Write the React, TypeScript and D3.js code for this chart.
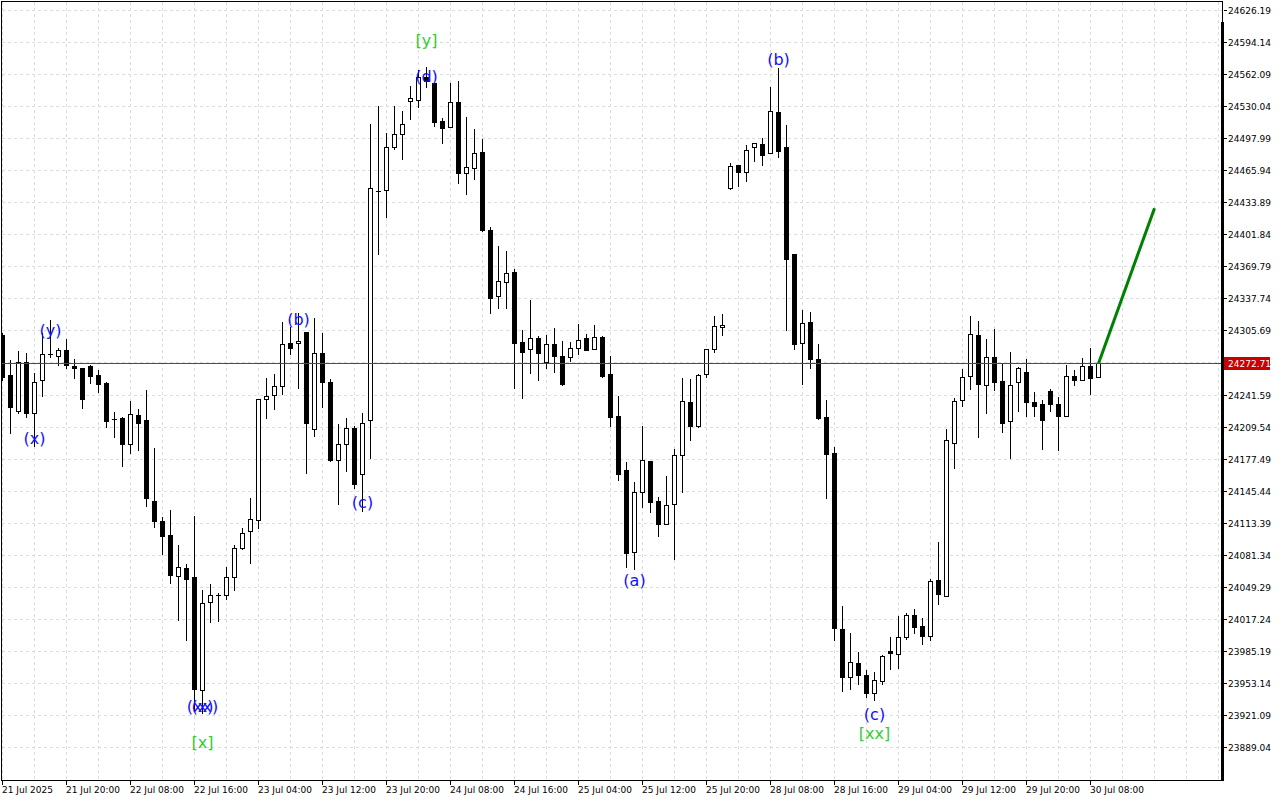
import * as d3 from 'd3'

// H1 candles
const opens = [
  24301, 24261, 24225, 24274, 24223, 24256, 24282, 24280, 24286, 24270,
  24268, 24270, 24261, 24253, 24217, 24218, 24192, 24221, 24216, 24135,
  24115, 24101, 24060, 24068, 24059, 23946, 24034, 24041, 24041, 24059,
  24088, 24105, 24116, 24237, 24241, 24250, 24293, 24293, 24304, 24207,
  24283, 24254, 24176, 24192, 24208, 24162, 24216, 24445, 24446, 24489,
  24502, 24535, 24536, 24559, 24553, 24515, 24509, 24534, 24463, 24468,
  24484, 24406, 24340, 24354, 24364, 24294, 24287, 24298, 24274, 24292,
  24280, 24279, 24288, 24298, 24287, 24299, 24262, 24220, 24166, 24084,
  24144, 24175, 24135, 24112, 24132, 24181, 24234, 24210, 24262, 24287,
  24309, 24448, 24471, 24464, 24489, 24492, 24483, 24524, 24489, 24382,
  24293, 24314, 24277, 24219, 24183, 24007, 23959, 23973, 23961, 23943,
  23955, 23985, 23982, 23999, 24021, 24010, 24000, 24056, 24040, 24193,
  24236, 24260, 24301, 24251, 24279, 24255, 24215, 24254, 24264, 24234,
  24232, 24245, 24232, 24220, 24260, 24256, 24270, 24259,
]
const highs = [
  24303, 24276, 24285, 24283, 24263, 24303, 24316, 24288, 24297, 24277,
  24268, 24271, 24266, 24254, 24224, 24219, 24235, 24227, 24246, 24188,
  24119, 24126, 24091, 24072, 24120, 24046, 24052, 24043, 24069, 24091,
  24108, 24138, 24237, 24258, 24262, 24314, 24309, 24323, 24304, 24318,
  24303, 24257, 24212, 24218, 24210, 24223, 24512, 24530, 24503, 24530,
  24525, 24550, 24566, 24569, 24553, 24518, 24553, 24555, 24519, 24507,
  24497, 24409, 24390, 24385, 24367, 24306, 24336, 24300, 24301, 24308,
  24295, 24294, 24312, 24302, 24311, 24300, 24280, 24240, 24174, 24154,
  24210, 24175, 24139, 24160, 24187, 24258, 24257, 24262, 24287, 24320,
  24322, 24473, 24471, 24491, 24493, 24498, 24549, 24568, 24511, 24382,
  24326, 24324, 24292, 24236, 24189, 24030, 24003, 23984, 23966, 23964,
  23981, 23999, 24020, 24023, 24027, 24018, 24057, 24094, 24207, 24238,
  24267, 24320, 24315, 24297, 24307, 24273, 24284, 24269, 24277, 24244,
  24236, 24247, 24239, 24271, 24266, 24278, 24288, 24273,
]
const lows = [
  24256, 24203, 24223, 24219, 24190, 24240, 24279, 24271, 24268, 24258,
  24228, 24253, 24244, 24209, 24199, 24170, 24183, 24186, 24130, 24109,
  24082, 24053, 24016, 23996, 23926, 23923, 24014, 24015, 24037, 24046,
  24087, 24073, 24108, 24218, 24227, 24242, 24282, 24248, 24163, 24200,
  24229, 24175, 24132, 24165, 24148, 24125, 24178, 24382, 24419, 24487,
  24477, 24517, 24529, 24549, 24510, 24493, 24509, 24453, 24442, 24457,
  24405, 24323, 24328, 24328, 24248, 24238, 24263, 24256, 24268, 24264,
  24251, 24275, 24282, 24286, 24287, 24259, 24210, 24156, 24069, 24067,
  24129, 24124, 24100, 24112, 24077, 24144, 24196, 24209, 24259, 24284,
  24301, 24447, 24450, 24455, 24475, 24471, 24483, 24479, 24306, 24287,
  24252, 24268, 24217, 24138, 23996, 23945, 23947, 23952, 23939, 23936,
  23952, 23967, 23968, 23997, 24003, 23992, 23996, 24032, 24040, 24168,
  24230, 24247, 24199, 24223, 24246, 24204, 24178, 24225, 24220, 24220,
  24187, 24225, 24186, 24220, 24251, 24256, 24242, 24259,
]
const closes = [
  24259, 24229, 24274, 24223, 24254, 24282, 24282, 24286, 24271, 24268,
  24237, 24260, 24252, 24215, 24217, 24192, 24222, 24213, 24138, 24115,
  24100, 24061, 24069, 24057, 23947, 24033, 24041, 24041, 24059, 24088,
  24103, 24117, 24237, 24240, 24250, 24292, 24288, 24295, 24213, 24283,
  24254, 24176, 24192, 24208, 24152, 24213, 24448, 24445, 24489, 24502,
  24512, 24538, 24559, 24555, 24514, 24508, 24534, 24463, 24469, 24483,
  24406, 24338, 24355, 24363, 24293, 24284, 24298, 24283, 24292, 24280,
  24252, 24288, 24296, 24286, 24299, 24260, 24219, 24162, 24083, 24144,
  24176, 24134, 24112, 24131, 24181, 24235, 24210, 24261, 24287, 24310,
  24311, 24470, 24464, 24486, 24493, 24481, 24525, 24485, 24377, 24292,
  24313, 24277, 24218, 24182, 24008, 23959, 23974, 23961, 23943, 23956,
  23980, 23983, 23999, 24021, 24009, 24000, 24055, 24042, 24196, 24235,
  24259, 24302, 24252, 24279, 24254, 24213, 24251, 24268, 24234, 24230,
  24216, 24232, 24220, 24260, 24256, 24270, 24258, 24272.71,
]

const bidPrice = 24272.71

const priceTicks = [
  24626.19, 24594.14, 24562.09, 24530.04, 24497.99, 24465.94, 24433.89, 24401.84,
  24369.79, 24337.74, 24305.69, 24273.64, 24241.59, 24209.54, 24177.49, 24145.44,
  24113.39, 24081.34, 24049.29, 24017.24, 23985.19, 23953.14, 23921.09, 23889.04,
]

// one label every 8 bars
const timeLabels = [
  '21 Jul 2025', '21 Jul 20:00', '22 Jul 08:00', '22 Jul 16:00', '23 Jul 04:00',
  '23 Jul 12:00', '23 Jul 20:00', '24 Jul 08:00', '24 Jul 16:00', '25 Jul 04:00',
  '25 Jul 12:00', '25 Jul 20:00', '28 Jul 08:00', '28 Jul 16:00', '29 Jul 04:00',
  '29 Jul 12:00', '29 Jul 20:00', '30 Jul 08:00',
]
const barsPerLabel = 8
const barsPerGrid = 4
const barCount = 153

// wave marks: text, bar, price
const waveText = ['(y)', '(x)', '(b)', '(c)', '(d)', '(x)', '(xx)', '(a)', '(b)', '(c)']
const waveBar = [6, 4, 37, 45, 53, 25, 25, 79, 97, 109]
const wavePrice = [24306, 24198, 24317, 24134, 24560, 23930, 23930, 24056, 24577, 23922]

const degreeText = ['[y]', '[x]', '[xx]']
const degreeBar = [53, 25, 109]
const degreePrice = [24596, 23894, 23903]

// projection from last close
const projectionBar = [137, 144]
const projectionPrice = [24272.71, 24428]

const W = 1280
const H = 800
const plotRight = 1222
const plotBottom = 780

export default function App() {
  const x = d3.scaleLinear().domain([0, barCount - 1]).range([2.5, 2.5 + 8 * (barCount - 1)])
  const y = d3.scaleLinear().domain([23889.04, 24626.19]).range([747, 10])
  const py = (p: number) => Math.round(y(p))

  const font = '"DejaVu Sans", sans-serif'
  const gridColor = '#dcdcdc'

  const gridBars = d3.range(0, barCount, barsPerGrid).filter((i) => x(i) < plotRight)
  const bidY = py(bidPrice) + 0.5

  const projLine = d3
    .line<number>()
    .x((_, i) => x(projectionBar[i]))
    .y((p) => y(p))(projectionPrice)

  return (
    <svg
      width={W}
      height={H}
      style={{ position: 'absolute', left: 0, top: 0, background: '#fff' }}
    >
      <defs>
        <clipPath id="plot">
          <rect x={2} y={2} width={plotRight - 2} height={plotBottom - 2} />
        </clipPath>
      </defs>
      <rect width={W} height={H} fill="#fff" />

      <g shapeRendering="crispEdges" clipPath="url(#plot)">
        {gridBars.map((i) => (
          <line key={'vg' + i} x1={x(i)} x2={x(i)} y1={2} y2={plotBottom}
            stroke={gridColor} strokeDasharray="3,3" />
        ))}
        {priceTicks.map((t) => (
          <line key={'hg' + t} x1={2} x2={plotRight} y1={py(t) + 0.5} y2={py(t) + 0.5}
            stroke={gridColor} strokeDasharray="3,3" />
        ))}

        {closes.map((c, i) => {
          const o = opens[i]
          const cx = x(i)
          const top = py(Math.max(o, c))
          const bot = py(Math.min(o, c))
          const bull = c >= o
          return (
            <g key={'c' + i}>
              <line x1={cx} x2={cx} y1={py(highs[i])} y2={py(lows[i]) + 1} stroke="#000" />
              {bot - top < 1 ? (
                <line x1={cx - 2.5} x2={cx + 2.5} y1={top + 0.5} y2={top + 0.5} stroke="#000" />
              ) : (
                <rect x={cx - 2} y={top + 0.5} width={4} height={bot - top}
                  fill={bull ? '#fff' : '#000'} stroke="#000" />
              )}
            </g>
          )
        })}

        <line x1={2} x2={plotRight} y1={bidY} y2={bidY} stroke="#ff0000" />
      </g>

      <path d={projLine || ''} fill="none" stroke="#008000" strokeWidth={3} />

      <g fontFamily={font} fontSize={16} textAnchor="middle" dominantBaseline="central">
        {waveText.map((t, i) => (
          <text key={'w' + i} x={x(waveBar[i])} y={y(wavePrice[i])} fill="#1010ff">{t}</text>
        ))}
        {degreeText.map((t, i) => (
          <text key={'d' + i} x={x(degreeBar[i])} y={y(degreePrice[i])} fill="#32cd32">{t}</text>
        ))}
      </g>

      {/* frame */}
      <g shapeRendering="crispEdges">
        <rect x={1.5} y={1.5} width={plotRight - 1} height={plotBottom - 1.5} fill="none" stroke="#000" />
        <rect x={plotRight - 1} y={22} width={3} height={plotBottom - 21} fill="#000" />
      </g>

      {/* price axis */}
      <g fontFamily={font} fontSize={9} shapeRendering="crispEdges">
        {priceTicks.map((t) => (
          <g key={'pt' + t}>
            <line x1={plotRight + 2} x2={plotRight + 5} y1={py(t) + 0.5} y2={py(t) + 0.5} stroke="#000" />
            <text x={plotRight + 6} y={py(t) + 0.5} dominantBaseline="central" fill="#000">
              {t.toFixed(2)}
            </text>
          </g>
        ))}
        <rect x={plotRight + 2} y={bidY - 7} width={46} height={13} fill="#c80000" />
        <text x={plotRight + 6} y={bidY} dominantBaseline="central" fill="#fff">
          {bidPrice.toFixed(2)}
        </text>
      </g>

      {/* time axis */}
      <g fontFamily={font} fontSize={9} shapeRendering="crispEdges">
        {timeLabels.map((t, k) => {
          const tx = x(k * barsPerLabel)
          return (
            <g key={'tl' + k}>
              <line x1={tx} x2={tx} y1={plotBottom} y2={plotBottom + 5} stroke="#000" />
              <text x={tx - 0.5} y={plotBottom + 13} fill="#000">{t}</text>
            </g>
          )
        })}
      </g>
    </svg>
  )
}
